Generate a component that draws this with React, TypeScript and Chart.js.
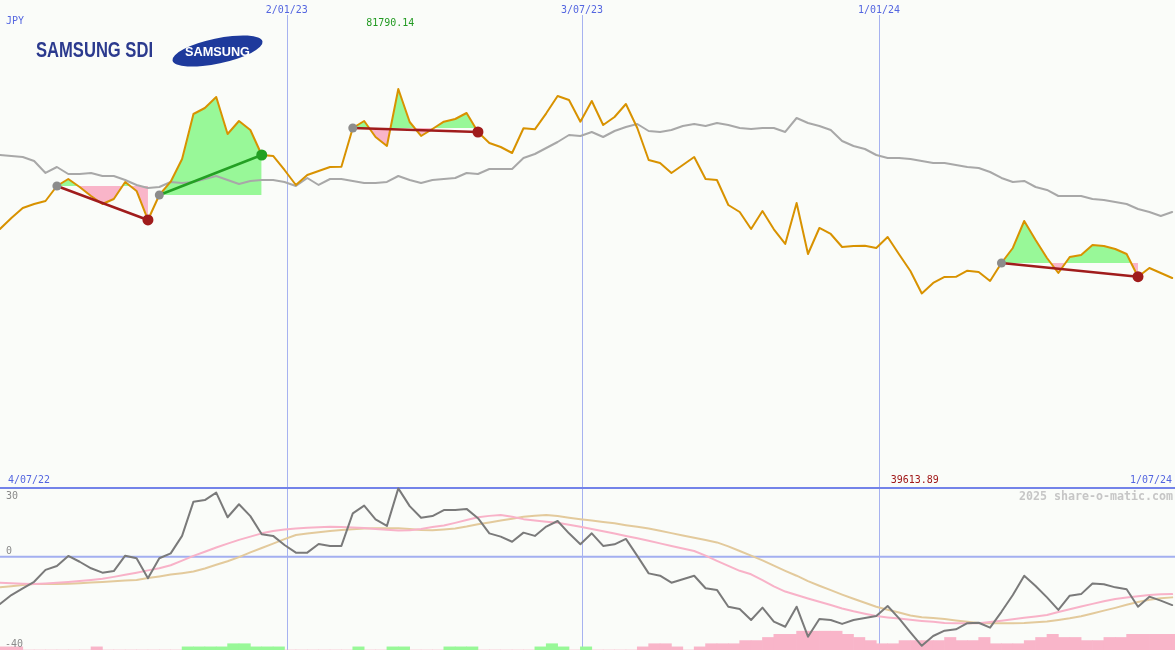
import React, { useEffect, useRef } from 'react';
import { Chart, registerables } from 'chart.js';

Chart.register(...registerables);

// ---------- labels ----------
const CURRENCY = 'JPY';
const TITLE = 'SAMSUNG SDI';
const LOGO_TEXT = 'SAMSUNG';
const COPYRIGHT = '2025 share-o-matic.com';
const RANGE_START_LABEL = '4/07/22';
const RANGE_END_LABEL = '1/07/24';

// ---------- x axis (weekly index) ----------
const WEEK_FIRST = 1;
const WEEK_COUNT = 104;
const WEEKS = Array.from({ length: WEEK_COUNT }, (_, k) => WEEK_FIRST + k);
const X_MIN = 1;
const X_MAX = 104.25;

const DATE_LINE_LABELS = ['2/01/23', '3/07/23', '1/01/24'];
const DATE_LINE_WEEKS = [26.2, 52.15, 78.25];

// ---------- main panel ----------
const PRICE_MIN = -300;
const PRICE_MAX = 100146;

const PRICE = [
  52917, 55185, 57247, 58072, 58691, 61785, 63228, 61578, 59722, 58072,
  59104, 62610, 60754, 54773, 59929, 62672, 67353, 76634, 77871, 80140,
  72509, 75190, 73334, 68178, 67972, 65085, 61991, 64053, 64878, 65703,
  65765, 73747, 75190, 71890, 70034, 81790.14, 74984, 72097, 73540, 75046,
  75603, 76840, 72922, 70653, 69828, 68591, 73685, 73478, 76778, 80346,
  79521, 75046, 79315, 74365, 76015, 78696, 73747, 67147, 66528, 64466,
  66116, 67766, 63228, 63022, 57866, 56422, 52917, 56629, 52855, 49823,
  58279, 47760, 53123, 51885, 49204, 49410, 49451, 48998, 51266, 47698,
  44254, 39613.89, 41779, 43017, 43058, 44316, 44048, 42192, 45904, 48998,
  54566, 50648, 46935, 43842, 47142, 47554, 49617, 49410, 48792, 47760,
  43079, 44873, 43842, 42811,
];

const COMPARE = [
  68178, 67972, 67766, 66941, 64466, 65703, 64260, 64260, 64466, 63847,
  63847, 63022, 61991, 61372, 61578, 62610, 62403, 62610, 63228, 63847,
  63022, 62197, 62816, 63022, 63022, 62610, 61785, 63435, 61991, 63228,
  63228, 62816, 62403, 62403, 62610, 63847, 63022, 62403, 63022, 63228,
  63435, 64466, 64260, 65291, 65291, 65291, 67559, 68384, 69622, 70859,
  72303, 72097, 72922, 71890, 73128, 73953, 74572, 73128, 72922, 73334,
  74159, 74572, 74159, 74778, 74365, 73747, 73540, 73747, 73747, 72922,
  75809, 74778, 74159, 73334, 71066, 70034, 69416, 68178, 67559, 67559,
  67353, 66941, 66528, 66528, 66116, 65703, 65497, 64672, 63435, 62610,
  62816, 61578, 60960, 59722, 59722, 59722, 59104, 58897, 58485, 58072,
  57041, 56422, 55598, 56422,
];

// signal segments (start week, end week, rising?)
const SIGNAL_FROM = [6, 15, 32, 89];
const SIGNAL_TO = [14, 24, 43, 101];
const SIGNAL_UP = [false, true, false, false];

// ---------- oscillator panel ----------
const OSC_MIN = -40;
const OSC_MAX = 30;
const OSC_TICKS = [30, 0, -40];

const OSC = [
  -20.2, -16.4, -13.5, -10.7, -5.6, -3.9, 0.4, -2.1, -4.9, -6.8,
  -6.1, 0.5, -0.6, -9.2, -0.6, 1.5, 9.0, 23.7, 24.4, 27.6,
  17.0, 22.6, 17.5, 9.7, 9.0, 5.1, 1.8, 1.8, 5.5, 4.7,
  4.7, 18.7, 22.0, 16.1, 13.3, 29.4, 21.8, 16.8, 17.5, 20.1,
  20.1, 20.6, 16.6, 10.1, 8.7, 6.5, 10.4, 9.0, 13.0, 15.4,
  10.1, 5.4, 10.1, 4.7, 5.4, 7.7, 0.4, -7.1, -8.1, -11.1,
  -9.6, -8.1, -13.5, -14.2, -21.4, -22.4, -27.1, -21.8, -27.8, -30.0,
  -21.4, -34.3, -26.7, -27.1, -28.8, -27.1, -26.3, -25.4, -21.1, -26.4,
  -32.4, -38.2, -34.0, -31.7, -31.1, -28.5, -28.3, -30.4, -23.6, -16.4,
  -8.1, -12.5, -17.4, -22.8, -16.7, -16.0, -11.4, -11.8, -13.1, -13.9,
  -21.4, -17.1, -18.8, -20.7,
];

const OSC_FAST = [
  -11.1, -11.3, -11.5, -11.7, -11.4, -11.1, -10.8, -10.4, -9.9, -9.4,
  -8.6, -7.7, -6.8, -5.8, -4.9, -3.6, -1.6, 0.4, 2.2, 4.0,
  5.7, 7.3, 8.7, 10.1, 11.1, 11.7, 12.2, 12.5, 12.7, 12.9,
  12.8, 12.6, 12.4, 12.0, 11.6, 11.3, 11.4, 12.0, 12.8, 13.5,
  14.6, 15.8, 17.0, 17.6, 18.0, 17.2, 16.2, 15.6, 15.1, 14.6,
  13.8, 12.9, 12.0, 11.0, 10.0, 9.0, 8.0, 6.9, 5.8, 4.7,
  3.6, 2.5, 0.5, -1.7, -3.9, -6.0, -7.5, -10.0, -12.7, -14.9,
  -16.4, -17.9, -19.3, -20.7, -22.2, -23.4, -24.4, -25.4, -26.0, -26.5,
  -27.0, -27.5, -27.9, -28.4, -28.5, -28.5, -28.5, -28.0, -27.4, -26.8,
  -26.2, -25.6, -25.0, -23.7, -22.5, -21.3, -20.2, -19.1, -18.1, -17.5,
  -16.9, -16.4, -16.1, -16.0,
];

const OSC_SLOW = [
  -13.1, -12.6, -12.1, -11.7, -11.7, -11.7, -11.6, -11.3, -11.0, -10.8,
  -10.5, -10.2, -9.9, -9.1, -8.4, -7.6, -7.0, -6.3, -5.0, -3.4,
  -1.9, -0.1, 1.9, 3.8, 5.7, 7.6, 9.4, 10.0, 10.6, 11.1,
  11.5, 11.9, 12.2, 12.3, 12.3, 12.3, 12.0, 11.5, 11.4, 11.8,
  12.2, 13.0, 14.0, 14.8, 15.6, 16.4, 17.2, 17.7, 18.0, 17.5,
  16.8, 16.2, 15.6, 15.0, 14.4, 13.6, 12.9, 12.2, 11.2, 10.2,
  9.2, 8.2, 7.2, 6.2, 4.5, 2.5, 0.5, -1.5, -3.8, -6.0,
  -8.1, -10.4, -12.4, -14.3, -16.2, -18.0, -19.7, -21.4, -22.7, -23.9,
  -25.2, -25.9, -26.3, -26.7, -27.3, -27.9, -28.4, -28.5, -28.5, -28.5,
  -28.4, -28.1, -27.8, -27.1, -26.4, -25.5, -24.3, -23.1, -21.9, -20.6,
  -19.4, -18.4, -17.8, -17.4,
];

// weekly bar levels (positive = green, negative = pink)
const HIST = [
  -1, -1, 0, 0, 0, 0, 0, 0, -1, 0,
  0, 0, 0, 0, 0, 0, 1, 1, 1, 1,
  2, 2, 1, 1, 1, 0, 0, 0, 0, 0,
  0, 1, 0, 0, 1, 1, 0, 0, 0, 1,
  1, 1, 0, 0, 0, 0, 0, 1, 2, 1,
  0, 1, 0, 0, 0, 0, -1, -2, -2, -1,
  0, -1, -2, -2, -2, -3, -3, -4, -5, -5,
  -6, -6, -6, -6, -5, -4, -3, -2, -2, -3,
  -3, -3, -3, -4, -3, -3, -4, -2, -2, -2,
  -3, -4, -5, -4, -4, -3, -3, -4, -4, -5,
  -5, -5, -5, -5,
];
const HIST_AXIS_MAX = 52;

// ---------- styles ----------
const BG = '#FAFCF9';
const GREEN_FILL = '#98F898';
const PINK_FILL = '#F9B5C9';
const ORANGE = '#D89200';
const GREY_LINE = '#A8A8A8';
const VLINE = '#A6B2F0';
const BORDER_BLUE = '#7383E9';
const LABEL_BLUE = '#5466E0';
const MONO = '"DejaVu Sans Mono", "Liberation Mono", monospace';

function monoText(ctx: any, text: string, x: number, y: number, align: string, color: string, size = 11, advance = 6, bold = false) {
  ctx.save();
  ctx.font = `${bold ? 'bold ' : ''}${size}px ${MONO}`;
  const w = ctx.measureText(text).width;
  const target = advance * text.length;
  const sx = target / w;
  const left = align === 'left' ? x : align === 'right' ? x - target : x - target / 2;
  ctx.translate(left, y);
  ctx.scale(sx, 1);
  ctx.textAlign = 'left';
  ctx.textBaseline = 'alphabetic';
  ctx.fillStyle = color;
  ctx.fillText(text, 0, 0);
  ctx.restore();
}

function fitText(ctx: any, text: string, font: string, left: number, baseline: number, width: number, color: string) {
  ctx.save();
  ctx.font = font;
  const w = ctx.measureText(text).width;
  ctx.translate(left, baseline);
  ctx.scale(width / w, 1);
  ctx.textAlign = 'left';
  ctx.textBaseline = 'alphabetic';
  ctx.fillStyle = color;
  ctx.fillText(text, 0, 0);
  ctx.restore();
}

const pts = (arr: number[]) => arr.map((v, k) => ({ x: WEEKS[k], y: v }));
const priceAt = (w: number) => PRICE[WEEKS.indexOf(w)];

const makeXScale = (): any => ({
  type: 'linear',
  min: X_MIN,
  max: X_MAX,
  display: false,
  offset: false,
  grid: { offset: false },
  ticks: { stepSize: 26, includeBounds: false },
});

export default function App() {
  const topRef = useRef<HTMLCanvasElement>(null);
  const botRef = useRef<HTMLCanvasElement>(null);

  useEffect(() => {
    document.body.style.margin = '0';

    const drawVLines = (chart: any, y0: number, y1: number) => {
      const ctx = chart.ctx;
      const xs = chart.scales.x;
      ctx.save();
      ctx.strokeStyle = VLINE;
      ctx.lineWidth = 1;
      DATE_LINE_WEEKS.forEach((w) => {
        const px = Math.round(xs.getPixelForValue(w)) + 0.5;
        ctx.beginPath();
        ctx.moveTo(px, y0);
        ctx.lineTo(px, y1);
        ctx.stroke();
      });
      ctx.restore();
    };

    const topDecor = {
      id: 'topDecor',
      beforeDraw(chart: any) {
        const { ctx, width, height } = chart;
        ctx.save();
        ctx.fillStyle = BG;
        ctx.fillRect(0, 0, width, height);
        ctx.restore();
      },
      beforeDatasetsDraw(chart: any) {
        drawVLines(chart, 15, chart.height);
      },
      afterDraw(chart: any) {
        const ctx = chart.ctx;
        const xs = chart.scales.x;
        monoText(ctx, CURRENCY, 6, 24, 'left', LABEL_BLUE);
        DATE_LINE_LABELS.forEach((lab, k) => {
          monoText(ctx, lab, xs.getPixelForValue(DATE_LINE_WEEKS[k]), 13, 'center', LABEL_BLUE);
        });
        let iMax = 0, iMin = 0;
        PRICE.forEach((v, k) => {
          if (v > PRICE[iMax]) iMax = k;
          if (v < PRICE[iMin]) iMin = k;
        });
        monoText(ctx, PRICE[iMax].toFixed(2), xs.getPixelForValue(WEEKS[iMax]) - 32, 26, 'left', '#229A22');
        monoText(ctx, PRICE[iMin].toFixed(2), xs.getPixelForValue(WEEKS[iMin]) - 31, 483, 'left', '#A01818');
        monoText(ctx, RANGE_START_LABEL, 8, 483, 'left', LABEL_BLUE);
        monoText(ctx, RANGE_END_LABEL, 1172, 483, 'right', LABEL_BLUE);
        fitText(ctx, TITLE, 'bold 22px "Liberation Sans", Arial, sans-serif', 36, 57, 117, '#2B3A8E');
        ctx.save();
        ctx.translate(217.5, 51);
        ctx.rotate((-12 * Math.PI) / 180);
        ctx.beginPath();
        ctx.ellipse(0, 0, 46, 12.5, 0, 0, Math.PI * 2);
        ctx.fillStyle = '#1E3A9C';
        ctx.fill();
        ctx.restore();
        fitText(ctx, LOGO_TEXT, 'bold 13px "Liberation Sans", Arial, sans-serif', 185, 56, 65, '#FFFFFF');
      },
    };

    const fillSets = SIGNAL_FROM.map((from, s) => ({
      type: 'line',
      data: WEEKS.filter((w) => w >= from && w <= SIGNAL_TO[s]).map((w) => ({ x: w, y: priceAt(w) })),
      borderWidth: 0,
      borderColor: 'rgba(0,0,0,0)',
      pointRadius: 0,
      fill: { target: { value: priceAt(from) }, above: GREEN_FILL, below: PINK_FILL },
      order: 20,
    }));

    const signalSets = SIGNAL_FROM.map((from, s) => {
      const color = SIGNAL_UP[s] ? '#23A023' : '#A01C1C';
      return {
        type: 'line',
        data: [
          { x: from, y: priceAt(from) },
          { x: SIGNAL_TO[s], y: priceAt(SIGNAL_TO[s]) },
        ],
        borderColor: color,
        borderWidth: 2.5,
        fill: false,
        pointRadius: [4.5, 5.5],
        pointHoverRadius: 0,
        pointBackgroundColor: ['#8C8C8C', color],
        pointBorderColor: ['#8C8C8C', color],
        pointBorderWidth: 0,
        order: 2,
      };
    });

    const topChart = new Chart(topRef.current as HTMLCanvasElement, {
      type: 'line',
      data: {
        datasets: [
          ...fillSets,
          {
            type: 'line',
            data: pts(COMPARE),
            borderColor: GREY_LINE,
            borderWidth: 2,
            pointRadius: 0,
            fill: false,
            order: 8,
          },
          {
            type: 'line',
            data: pts(PRICE),
            borderColor: ORANGE,
            borderWidth: 2,
            pointRadius: 0,
            fill: false,
            order: 6,
          },
          ...signalSets,
        ] as any,
      },
      options: {
        responsive: false,
        animation: false,
        events: [],
        layout: { padding: 0, autoPadding: false },
        scales: {
          x: makeXScale(),
          y: { type: 'linear', min: PRICE_MIN, max: PRICE_MAX, display: false },
        },
        elements: { line: { borderJoinStyle: 'round', borderCapStyle: 'round' } },
        plugins: { legend: { display: false }, tooltip: { enabled: false } },
      } as any,
      plugins: [topDecor],
    });

    const botDecor = {
      id: 'botDecor',
      beforeDraw(chart: any) {
        const { ctx, width, height } = chart;
        ctx.save();
        ctx.fillStyle = BG;
        ctx.fillRect(0, 0, width, height);
        ctx.restore();
      },
      beforeDatasetsDraw(chart: any) {
        const { ctx, width, height } = chart;
        drawVLines(chart, 0, height);
        const ys = chart.scales.y;
        ctx.save();
        ctx.strokeStyle = '#A3AFF0';
        ctx.lineWidth = 2;
        const y0 = ys.getPixelForValue(0);
        ctx.beginPath();
        ctx.moveTo(0, y0);
        ctx.lineTo(width, y0);
        ctx.stroke();
        ctx.strokeStyle = BORDER_BLUE;
        ctx.beginPath();
        ctx.moveTo(0, 1);
        ctx.lineTo(width, 1);
        ctx.stroke();
        ctx.restore();
      },
      afterDraw(chart: any) {
        const ctx = chart.ctx;
        const ys = chart.scales.y;
        OSC_TICKS.forEach((t) => {
          let y = ys.getPixelForValue(t) - 3;
          if (y < 12) y = 12;
          monoText(ctx, String(t), t < 0 ? 5 : 6, y, 'left', '#8A8A8A');
        });
        monoText(ctx, COPYRIGHT, 1173, 13, 'right', '#C6C6C6', 12, 7, true);
      },
    };

    const botChart = new Chart(botRef.current as HTMLCanvasElement, {
      type: 'line',
      data: {
        datasets: [
          {
            type: 'bar',
            data: WEEKS.map((w, k) => ({ x: w + 0.5, y: Math.abs(HIST[k]) })),
            backgroundColor: HIST.map((h) => (h > 0 ? GREEN_FILL : PINK_FILL)),
            yAxisID: 'yh',
            barPercentage: 1,
            categoryPercentage: 1,
            borderWidth: 0,
            order: 20,
          },
          {
            type: 'line',
            data: pts(OSC_SLOW),
            borderColor: '#E3CA9C',
            borderWidth: 2,
            pointRadius: 0,
            fill: false,
            order: 9,
          },
          {
            type: 'line',
            data: pts(OSC_FAST),
            borderColor: '#F8B2C8',
            borderWidth: 2,
            pointRadius: 0,
            fill: false,
            order: 8,
          },
          {
            type: 'line',
            data: pts(OSC),
            borderColor: '#7A7A7A',
            borderWidth: 2,
            pointRadius: 0,
            fill: false,
            order: 5,
          },
        ] as any,
      },
      options: {
        responsive: false,
        animation: false,
        events: [],
        layout: { padding: 0, autoPadding: false },
        scales: {
          x: makeXScale(),
          y: { type: 'linear', min: OSC_MIN, max: OSC_MAX, display: false },
          yh: { type: 'linear', min: 0, max: HIST_AXIS_MAX, display: false, position: 'right' },
        },
        elements: { line: { borderJoinStyle: 'round', borderCapStyle: 'round' } },
        plugins: { legend: { display: false }, tooltip: { enabled: false } },
      } as any,
      plugins: [botDecor],
    });

    return () => {
      topChart.destroy();
      botChart.destroy();
    };
  }, []);

  return (
    <div style={{ position: 'absolute', left: 0, top: 0, width: 1175, height: 650, background: BG }}>
      <canvas
        ref={topRef}
        width={1175}
        height={487}
        style={{ position: 'absolute', left: 0, top: 0, width: 1175, height: 487, display: 'block' }}
      />
      <canvas
        ref={botRef}
        width={1175}
        height={163}
        style={{ position: 'absolute', left: 0, top: 487, width: 1175, height: 163, display: 'block' }}
      />
    </div>
  );
}
